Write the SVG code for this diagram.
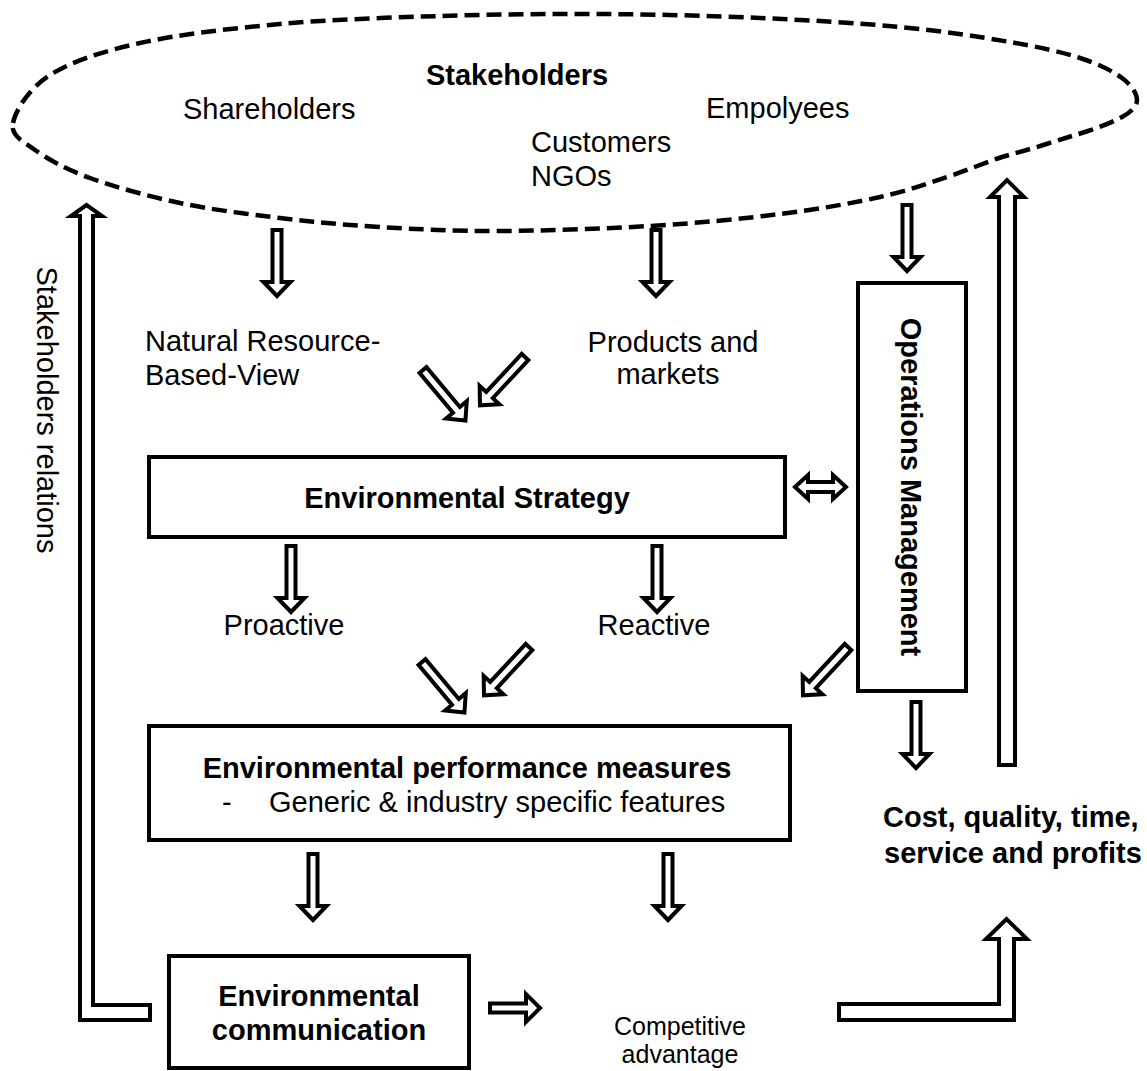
<svg xmlns="http://www.w3.org/2000/svg" width="1147" height="1071" viewBox="0 0 1147 1071">
<style>
text{font-family:"Liberation Sans",Arial,sans-serif;font-size:29px;fill:#000}
.b{font-weight:bold}
.m{text-anchor:middle}
.s{font-size:25px}
.box{fill:#fff;stroke:#000;stroke-width:4}
.arr{fill:#fff;stroke:#000;stroke-width:4;stroke-linejoin:miter}
</style>
<defs>
<path id="ad" d="M-4.5,0 V52 H-13.5 L0,66 L13.5,52 H4.5 V0 Z"/>
<path id="as" d="M-4.5,0 V36 H-14 L0,50 L14,36 H4.5 V0 Z"/>
</defs>
<rect width="1147" height="1071" fill="#fff"/>
<g id="stakeholders">
<path d="M13,123 C15.5,110.5 28.8,88.3 50,75 C71.2,61.7 101.7,51.5 140,43 C178.3,34.5 230,28.5 280,24 C330,19.5 386.7,17.7 440,16 C493.3,14.3 546.7,13.7 600,14 C653.3,14.3 710,15.8 760,18 C810,20.2 858.3,23 900,27 C941.7,31 980,36.8 1010,42 C1040,47.2 1061.3,52 1080,58 C1098.7,64 1112.5,71 1122,78 C1131.5,85 1137,93.5 1137,100 C1137,106.5 1131,112 1122,117 C1112,122.5 1100,127 1088,131 C1074,135.5 1062,139 1048,143.5 C1033,148.5 1019,152 1002,157 C984.8,162.7 967.3,170.3 947,177 C926.7,183.7 907.8,190.8 880,197 C852.2,203.2 818.3,209.2 780,214 C741.7,218.8 696.7,223.2 650,226 C603.3,228.8 545,230.8 500,231 C455,231.2 416.7,229.2 380,227 C343.3,224.8 313.3,222 280,218 C246.7,214 211.7,209.7 180,203 C148.3,196.3 114.2,186.8 90,178 C65.8,169.2 47.8,159.2 35,150 C22.2,140.8 10.5,135.5 13,123 Z" fill="none" stroke="#000" stroke-width="4.5" stroke-dasharray="15 7"/>
<text class="b m" x="517" y="85">Stakeholders</text>
<text x="183" y="119">Shareholders</text>
<text x="706" y="118">Empolyees</text>
<text x="531" y="152">Customers</text>
<text x="531" y="186">NGOs</text>
</g>
<g id="nrbv"><text x="145" y="351">Natural Resource-</text><text x="145" y="385">Based-View</text></g>
<g id="products"><text class="m" x="673" y="352">Products and</text><text class="m" x="668" y="384">markets</text></g>
<g id="env-strategy"><rect class="box" x="149" y="457" width="636" height="80"/><text class="b m" x="467" y="508">Environmental Strategy</text></g>
<g id="ops-mgmt"><rect class="box" x="858" y="283" width="108" height="408"/><text class="b m" transform="translate(901,487) rotate(90)">Operations Management</text></g>
<g id="proactive"><text class="m" x="284" y="635">Proactive</text></g>
<g id="reactive"><text class="m" x="654" y="635">Reactive</text></g>
<g id="env-perf"><rect class="box" x="149" y="726" width="641" height="114"/><text class="b m" x="467" y="778">Environmental performance measures</text><text x="222" y="812">-</text><text x="269" y="812">Generic &amp; industry specific features</text></g>
<g id="env-comm"><rect class="box" x="169" y="956" width="300" height="112"/><text class="b m" x="319" y="1006">Environmental</text><text class="b m" x="319" y="1040">communication</text></g>
<g id="competitive"><text class="m s" x="680" y="1035">Competitive</text><text class="m s" x="680" y="1063">advantage</text></g>
<g id="outcomes"><text class="b" x="883" y="827">Cost, quality, time,</text><text class="b" x="884" y="863">service and profits</text></g>
<g id="relations-label"><text class="m" transform="translate(37,410) rotate(90)">Stakeholders relations</text></g>
<g id="connectors">
<use href="#ad" class="arr" transform="translate(277,230)"/>
<use href="#ad" class="arr" transform="translate(656,230)"/>
<use href="#ad" class="arr" transform="translate(907,205)"/>
<use href="#ad" class="arr" transform="translate(423,370) rotate(-40)"/>
<use href="#ad" class="arr" transform="translate(525,357) rotate(43)"/>
<use href="#ad" class="arr" transform="translate(291,546)"/>
<use href="#ad" class="arr" transform="translate(657,546)"/>
<use href="#ad" class="arr" transform="translate(422,662) rotate(-40)"/>
<use href="#ad" class="arr" transform="translate(529,647) rotate(43)"/>
<use href="#ad" class="arr" transform="translate(848,647) rotate(43)"/>
<use href="#ad" class="arr" transform="translate(313,854)"/>
<use href="#ad" class="arr" transform="translate(668,854)"/>
<use href="#ad" class="arr" transform="translate(916,702)"/>
<use href="#as" class="arr" transform="translate(490,1008) rotate(-90)"/>
<path class="arr" d="M795,487 L808,475 V482 H833 V475 L846,487 L833,499 V492 H808 V499 Z"/>
<path class="arr" d="M999,765 V197 H990 L1007,180 L1024,197 H1015 V765 Z"/>
<path class="arr" d="M150,1005 H93 V216 H102 L86.5,205 L71,216 H80 V1020 H150 Z"/>
<path class="arr" d="M839,1004 H999 V939 H986 L1006.5,919 L1027,939 H1014 V1020 H839 Z"/>
</g>
</svg>
